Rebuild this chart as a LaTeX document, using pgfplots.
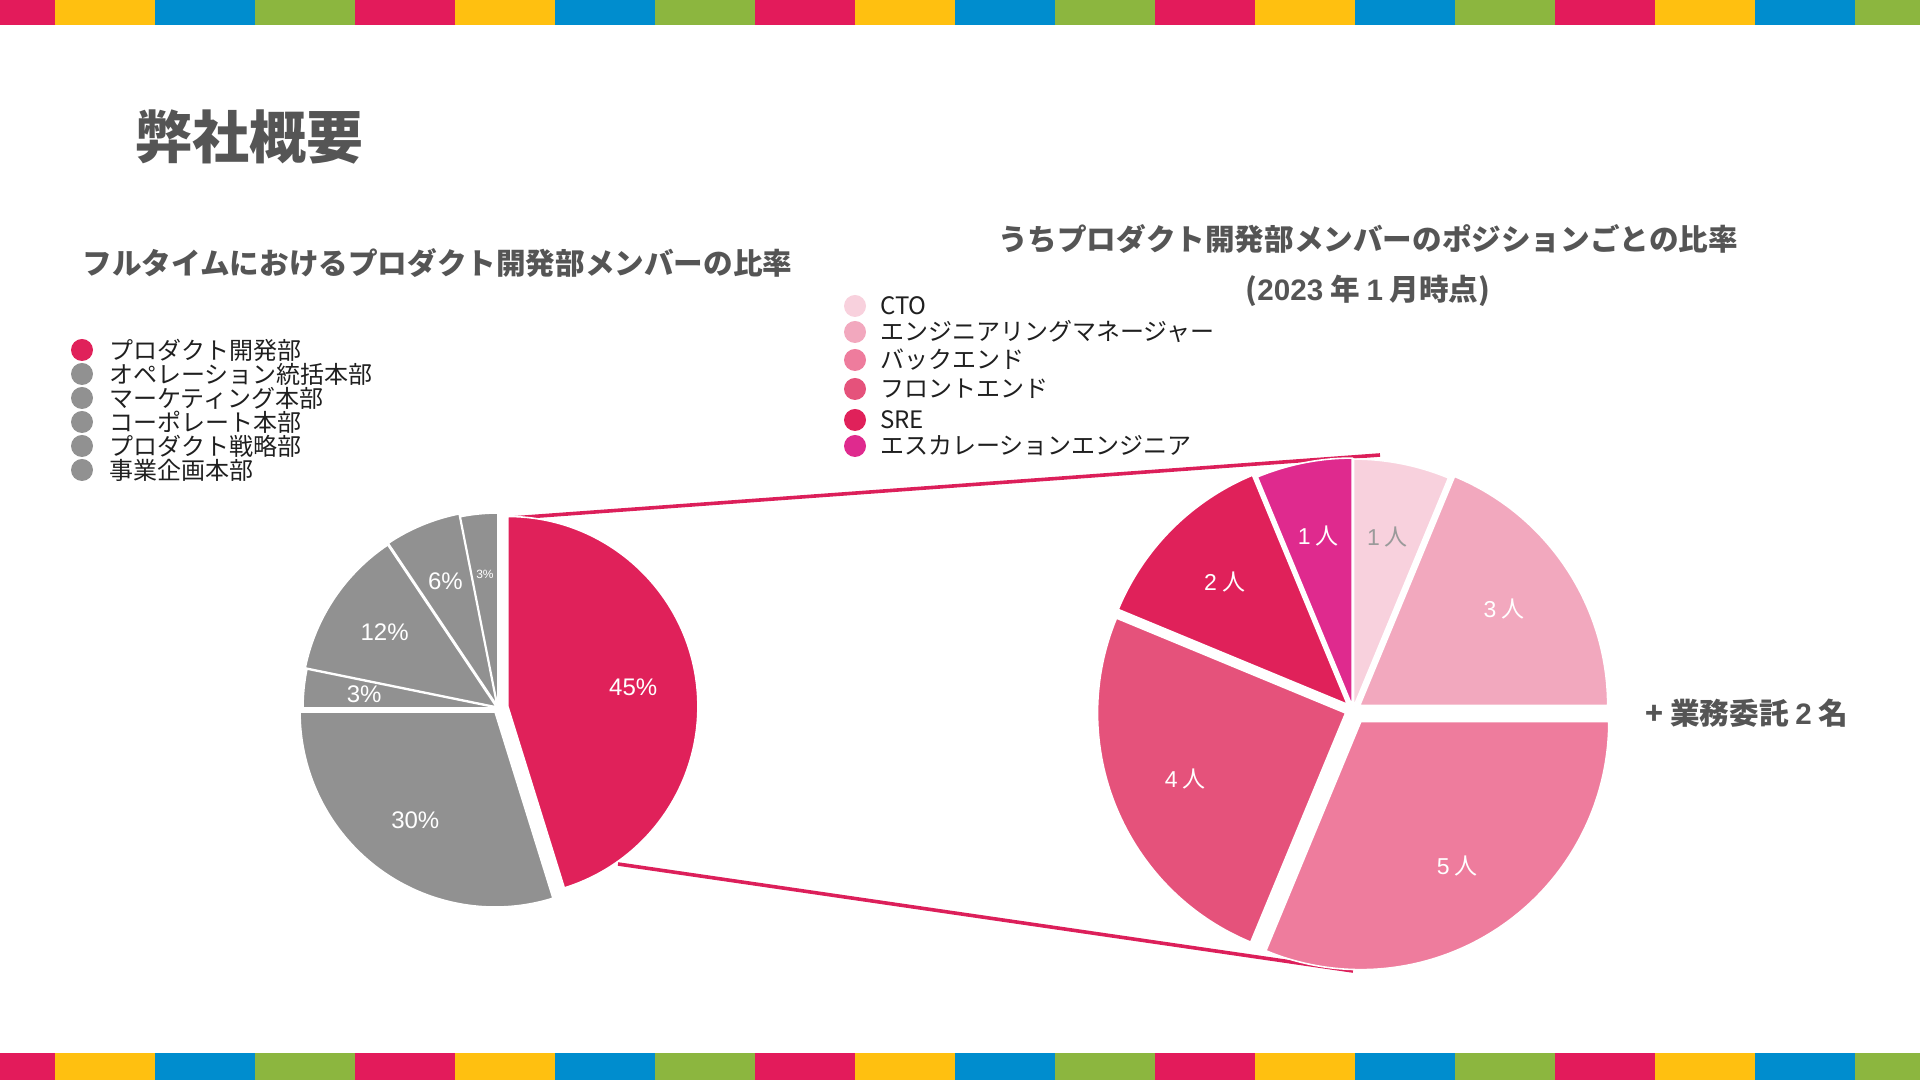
\documentclass[border=0pt]{standalone}
\usepackage{fontspec}
\setmainfont{Noto Sans CJK JP}
\newfontfamily\lat{Liberation Sans}
\usepackage{pgfplots}
\usepackage{pgfplotstable}
\pgfplotsset{compat=1.18}

\definecolor{stred}{HTML}{E31B5B}
\definecolor{styel}{HTML}{FFC010}
\definecolor{stblu}{HTML}{008DCE}
\definecolor{stgrn}{HTML}{8CB63F}
\definecolor{hdr}{HTML}{555555}
\definecolor{pred}{HTML}{E0215A}
\definecolor{pgrey}{HTML}{919191}
\definecolor{cto}{HTML}{F8D1DD}
\definecolor{em}{HTML}{F2A8BE}
\definecolor{be}{HTML}{EE7C9D}
\definecolor{fe}{HTML}{E5527B}
\definecolor{sre}{HTML}{E0215A}
\definecolor{esc}{HTML}{DF2A8E}
\definecolor{link}{HTML}{DC1F5A}
\definecolor{ctolab}{HTML}{9A9A9A}

% full-time members by department (%), slices clockwise from 12 o'clock
\pgfplotstableread[col sep=comma]{
name,value,col,ex,r,ly,fs,lr
プロダクト開発部,45.2,pred,10,190,350,12,0.65
オペレーション統括本部,29.8,pgrey,5,195,374,12,0.69
マーケティング本部,3.2,pgrey,0,195,398,12,0.69
コーポレート本部,12.4,pgrey,2,195,422,12,0.69
プロダクト戦略部,6.3,pgrey,3,195,446,12,0.69
事業企画本部,3.1,pgrey,0,195,470,6,0.69
}\deptdata

% product dev members by position (people)
\pgfplotstableread[col sep=comma]{
name,value,col,ex,ly,lc
CTO,1,cto,3,306,ctolab
エンジニアリングマネージャー,3,em,8,332,white
バックエンド,5,be,14,360,white
フロントエンド,4,fe,8,389,white
SRE,2,sre,8,420,white
エスカレーションエンジニア,1,esc,4,446,white
}\posdata

\newcommand\legfont{\fontsize{12}{14}\selectfont}
\newcommand\hfont{\fontsize{14.8}{17}\selectfont\bfseries}

\begin{document}
\begin{tikzpicture}
\begin{axis}[
    at={(0,0)}, anchor=south west,
    width=960pt, height=540pt, scale only axis,
    xmin=0, xmax=1920, ymin=0, ymax=1080,
    hide axis, clip=false]
\addplot[draw=none, forget plot] table[x expr=\coordindex, y=value, col sep=comma] {\deptdata};

% connector lines
\draw[link, line width=1.8pt] (axis cs:512,562) -- (axis cs:1380,625);
\draw[link, line width=1.8pt] (axis cs:618,216) -- (axis cs:1353,109);

% left pie
\def\cum{0}
\pgfplotsforeachungrouped \i in {0,...,5}{%
  \pgfplotstablegetelem{\i}{value}\of\deptdata \let\v\pgfplotsretval
  \pgfplotstablegetelem{\i}{col}\of\deptdata \let\c\pgfplotsretval
  \pgfplotstablegetelem{\i}{ex}\of\deptdata \let\ex\pgfplotsretval
  \pgfplotstablegetelem{\i}{r}\of\deptdata \let\rr\pgfplotsretval
  \pgfplotstablegetelem{\i}{ly}\of\deptdata \let\ly\pgfplotsretval
  \pgfplotstablegetelem{\i}{fs}\of\deptdata \let\fs\pgfplotsretval
  \pgfplotstablegetelem{\i}{lr}\of\deptdata \let\lr\pgfplotsretval
  \pgfplotstablegetelem{\i}{name}\of\deptdata \let\nm\pgfplotsretval
  \pgfmathsetmacro\s{90-3.6*\cum}
  \pgfmathsetmacro\e{\s-3.6*\v}
  \pgfmathsetmacro\m{(\s+\e)/2}
  \pgfmathsetmacro\ox{498+\ex*cos(\m)}
  \pgfmathsetmacro\oy{372+\ex*sin(\m)}
  \pgfmathsetmacro\R{0.5*\rr}
  \pgfmathsetmacro\lx{\ox+\lr*195*cos(\m)}
  \pgfmathsetmacro\lyy{\oy+\lr*195*sin(\m)}
  \pgfmathsetmacro\gy{1080-\ly}
  \pgfmathtruncatemacro\pct{round(\v)}
  \pgfmathsetmacro\cum{\cum+\v}
  \edef\cmd{%
    \noexpand\fill[\c, draw=white, line width=0.8pt] (axis cs:\ox,\oy) -- ++(\s:\R pt)
      arc[start angle=\s, end angle=\e, radius=\R pt] -- cycle;
    \noexpand\node[text=white, inner sep=0pt, font=\noexpand\lat\noexpand\fontsize{\fs}{\fs}\noexpand\selectfont]
      at (axis cs:\lx,\lyy) {\pct\noexpand\%};
    \noexpand\fill[\c] (axis cs:82,\gy) circle[radius=5.5pt];
    \noexpand\node[anchor=west, inner sep=0pt, text=black!88, font=\noexpand\legfont]
      at (axis cs:109,\gy) {\nm};
  }\cmd
}

% right pie
\def\cum{0}
\pgfplotsforeachungrouped \i in {0,...,5}{%
  \pgfplotstablegetelem{\i}{value}\of\posdata \let\v\pgfplotsretval
  \pgfplotstablegetelem{\i}{col}\of\posdata \let\c\pgfplotsretval
  \pgfplotstablegetelem{\i}{ex}\of\posdata \let\ex\pgfplotsretval
  \pgfplotstablegetelem{\i}{ly}\of\posdata \let\ly\pgfplotsretval
  \pgfplotstablegetelem{\i}{lc}\of\posdata \let\lc\pgfplotsretval
  \pgfplotstablegetelem{\i}{name}\of\posdata \let\nm\pgfplotsretval
  \pgfmathsetmacro\s{90-22.5*\cum}
  \pgfmathsetmacro\e{\s-22.5*\v}
  \pgfmathsetmacro\m{(\s+\e)/2}
  \pgfmathsetmacro\ox{1353+\ex*cos(\m)}
  \pgfmathsetmacro\oy{370+\ex*sin(\m)}
  \pgfmathsetmacro\lx{\ox+0.70*248*cos(\m)}
  \pgfmathsetmacro\lyy{\oy+0.70*248*sin(\m)}
  \pgfmathsetmacro\gy{1080-\ly}
  \pgfmathtruncatemacro\n{\v}
  \pgfmathsetmacro\cum{\cum+\v}
  \edef\cmd{%
    \noexpand\fill[\c, draw=white, line width=0.8pt] (axis cs:\ox,\oy) -- ++(\s:124pt)
      arc[start angle=\s, end angle=\e, radius=124pt] -- cycle;
    \noexpand\node[text=\lc, inner sep=0pt, font=\noexpand\fontsize{11.5}{13}\noexpand\selectfont]
      at (axis cs:\lx,\lyy) {{\noexpand\lat \n}\noexpand~人};
    \noexpand\fill[\c] (axis cs:855,\gy) circle[radius=5.5pt];
    \noexpand\node[anchor=west, inner sep=0pt, text=black!88, font=\noexpand\legfont]
      at (axis cs:880,\gy) {\nm};
  }\cmd
}

% titles
\node[anchor=west, inner sep=0pt, text=hdr, font=\fontsize{28.5}{33}\selectfont\bfseries]
  at (axis cs:135,943) {弊社概要};
\node[anchor=west, inner sep=0pt, text=hdr, font=\hfont]
  at (axis cs:82,817) {フルタイムにおけるプロダクト開発部メンバーの比率};
\node[inner sep=0pt, text=hdr, font=\hfont]
  at (axis cs:1368,841) {うちプロダクト開発部メンバーのポジションごとの比率};
\node[inner sep=0pt, text=hdr, font=\hfont]
  at (axis cs:1368,789) {({\lat\bfseries 2023} 年 {\lat\bfseries 1} 月時点)};
\node[anchor=west, inner sep=0pt, text=hdr, font=\hfont]
  at (axis cs:1645,367) {+ 業務委託 {\lat\bfseries 2} 名};
\end{axis}

% decorative colour stripes, top and bottom
\begin{scope}[shift={(0pt,540pt)}, x=0.5pt, y=-0.5pt]
\foreach \blk in {0,...,4}{
  \foreach \j/\col in {0/stred,1/styel,2/stblu,3/stgrn}{
    \fill[\col] ({-45+400*\blk+100*\j},0) rectangle ++(100,25);
    \fill[\col] ({-45+400*\blk+100*\j},1053) rectangle ++(100,27);
  }
}
\end{scope}
\pgfresetboundingbox
\path[use as bounding box] (0,0) rectangle (960pt,540pt);
\end{tikzpicture}
\end{document}
